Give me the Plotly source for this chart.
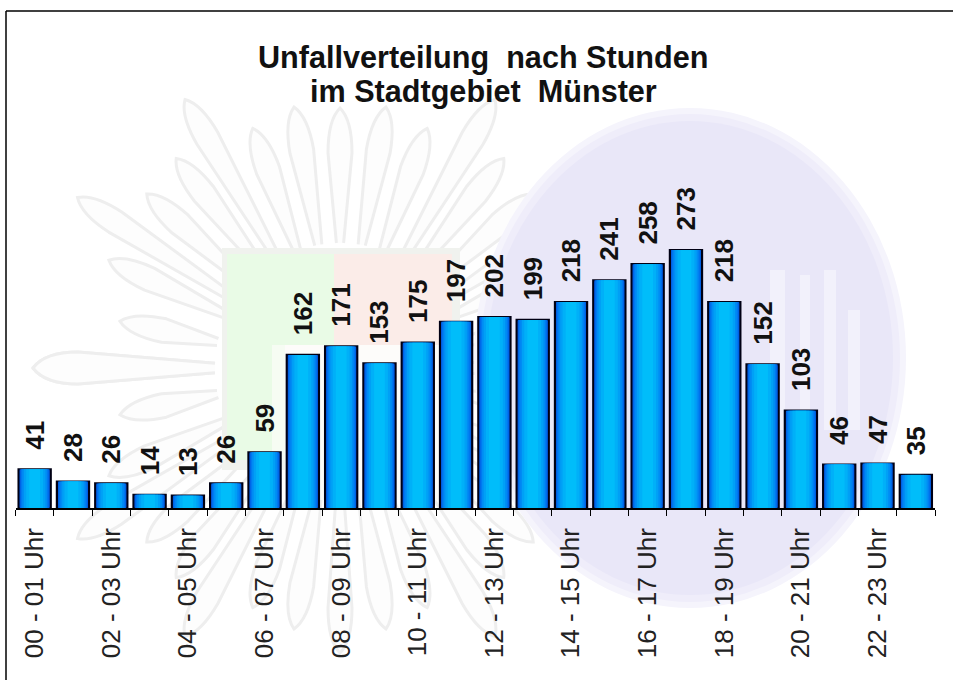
import math
import plotly.graph_objects as go

hours = ["00 - 01 Uhr","01 - 02 Uhr","02 - 03 Uhr","03 - 04 Uhr","04 - 05 Uhr","05 - 06 Uhr",
         "06 - 07 Uhr","07 - 08 Uhr","08 - 09 Uhr","09 - 10 Uhr","10 - 11 Uhr","11 - 12 Uhr",
         "12 - 13 Uhr","13 - 14 Uhr","14 - 15 Uhr","15 - 16 Uhr","16 - 17 Uhr","17 - 18 Uhr",
         "18 - 19 Uhr","19 - 20 Uhr","20 - 21 Uhr","21 - 22 Uhr","22 - 23 Uhr","23 - 24 Uhr"]
accidents = [41,28,26,14,13,26,59,162,171,153,175,197,202,199,218,241,258,273,218,152,103,46,47,35]
tick_labels = [h if i % 2 == 0 else "" for i, h in enumerate(hours)]
title_lines = ["Unfallverteilung  nach Stunden", "im Stadtgebiet  Münster"]

W, H = 953, 680
FONT = "Liberation Sans"
def px(x): return x / W
def py(y): return 1 - y / H

fig = go.Figure()
# layered bars emulate the horizontal blue-to-cyan gradient of the original bars
layers = [(0.78, "#0060e4"), (0.72, "#0078f0"), (0.65, "#008cf4"), (0.56, "#00a0f6"), (0.44, "#00b0f8"), (0.28, "#00bdfa")]
fig.add_trace(go.Bar(x=hours, y=accidents, width=0.84, marker=dict(color="#0048cc", line=dict(color="#000014", width=2.2)),
                     text=["\u00a0\u00a0\u200a" + str(v) for v in accidents], textposition="outside", textangle=-90,
                     textfont=dict(family=FONT, size=26, color="#111111", weight="bold"),
                     constraintext="none", cliponaxis=False, hoverinfo="x+y", showlegend=False))
for w, c in layers:
    fig.add_trace(go.Bar(x=hours, y=accidents, width=w, marker=dict(color=c, line=dict(width=0)),
                         hoverinfo="skip", showlegend=False))

shapes = []
# ---- decorative watermark ----
def ellipse(cx, cy, rx, ry, color):
    return dict(type="circle", xref="paper", yref="paper", layer="below",
                x0=px(cx-rx), x1=px(cx+rx), y0=py(cy+ry), y1=py(cy-ry),
                fillcolor=color, line=dict(width=0))
def rect(x0, y0, x1, y1, color):
    return dict(type="rect", xref="paper", yref="paper", layer="below",
                x0=px(x0), x1=px(x1), y0=py(y1), y1=py(y0), fillcolor=color, line=dict(width=0))

# star petals: (angle from the horizontal, tip radius), mirrored into all quadrants
cx, cy = 340, 368
quadrant = [(0,307),(12,225),(25,255),(33,313),(42,260),(52,266),(60,310),(70,255),(80,265)]
angles = []
for d, r in quadrant:
    angles += [(180 + d, r), (360 - d, r), (180 - d, r), (d, r)]
angles.append((270, 260)); angles.append((90, 285))
for deg, r1 in angles:
    a = math.radians(deg)
    ux, uy = math.cos(a), math.sin(a)
    nx, ny = -uy, ux
    hw = 16 if deg % 180 == 0 else 12
    p = lambda r, s: f"{(cx + ux*r + nx*s)/W},{1-(cy + uy*r + ny*s)/H}"
    r0 = 125
    path = (f"M{p(r0,-hw*.3)} L{p(r1-45,-hw)} Q{p(r1-12,-hw)} {p(r1,0)} "
            f"Q{p(r1-12,hw)} {p(r1-45,hw)} L{p(r0,hw*.3)}")
    shapes.append(dict(type="path", xref="paper", yref="paper", layer="below", path=path,
                       line=dict(color="#eeeeee", width=3), fillcolor="#fdfdfd"))

# soft lilac disc with white stripes
shapes += [ellipse(690, 358, 216, 250, "#f5f4fc"), ellipse(690, 358, 210, 244, "#efedfa"),
           ellipse(690, 358, 203, 237, "#e9e7f8")]
for x0, y0, x1, y1 in [(770,270,785,430),(800,275,810,430),(824,270,836,430),(848,310,860,430)]:
    shapes.append(rect(x0, y0, x1, y1, "#f2f1fb"))

# shield
shapes += [rect(222, 248, 460, 470, "#f0f2ee"),
           rect(227, 254, 334, 460, "#e9fbe6"), rect(334, 254, 452, 460, "#fbece8"),
           rect(272, 345, 285, 460, "#f6fcf3"), rect(285, 345, 452, 500, "#fdfcfa")]
# frame
for x0, y0, x1, y1 in [(6, 11, 953, 11), (6, 11, 6, 680)]:
    shapes.append(dict(type="line", xref="paper", yref="paper", x0=px(x0), x1=px(x1), y0=py(y0), y1=py(y1),
                       line=dict(color="#000000", width=1.5)))

annotations = [dict(text=t, xref="paper", yref="paper", x=px(483), y=py(y), showarrow=False,
                    xanchor="center", yanchor="middle",
                    font=dict(family=FONT, size=30.6, color="#111111", weight="bold"))
               for t, y in zip(title_lines, (57, 92))]

fig.update_layout(
    width=W, height=H, margin=dict(l=0, r=0, t=0, b=0), autosize=False,
    paper_bgcolor="white", plot_bgcolor="rgba(0,0,0,0)", barmode="overlay",
    shapes=shapes, annotations=annotations, showlegend=False,
    xaxis=dict(domain=[px(15.5), px(935)], type="category", categoryorder="array", categoryarray=hours,
               tickmode="array", tickvals=hours, ticktext=tick_labels, tickson="boundaries",
               ticks="outside", ticklen=6, tickwidth=1, tickcolor="#000000", tickangle=-90,
               ticklabelstandoff=8,
               showline=True, linecolor="#000000", linewidth=1.5, showgrid=False, zeroline=False,
               automargin=False, tickfont=dict(family=FONT, size=26, color="#222222")),
    yaxis=dict(domain=[py(508), py(35.5)], range=[0, 500], visible=False, showgrid=False, zeroline=False),
)
fig.write_html("out.html", config={"displayModeBar": False}, post_script="document.body.style.margin='0';")
